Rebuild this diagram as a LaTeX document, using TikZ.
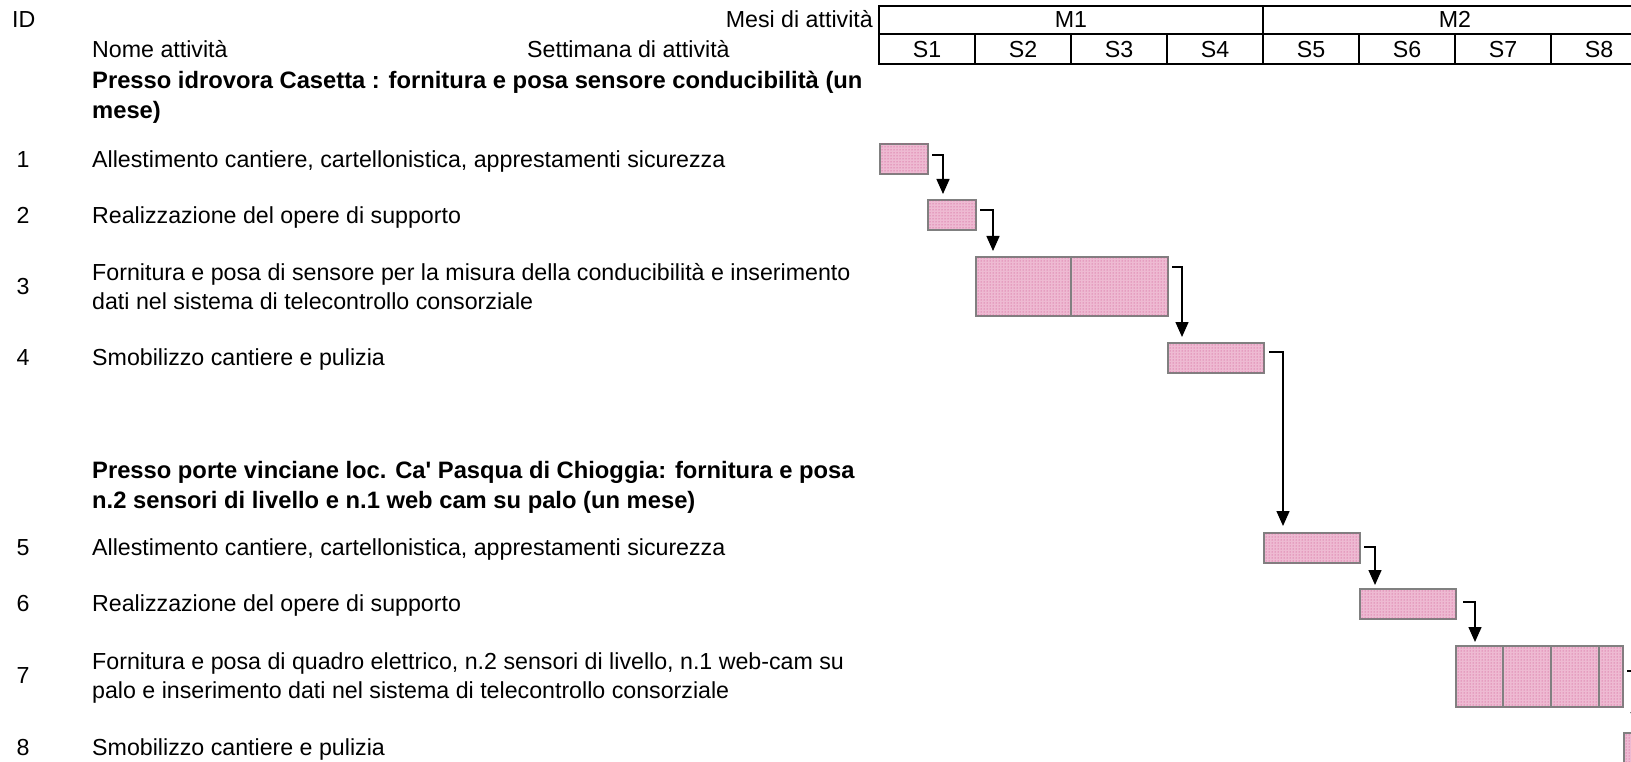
\documentclass[tikz,border=0pt]{standalone}
\usepackage{fontspec}
\setmainfont{Liberation Sans}
\usetikzlibrary{arrows.meta,patterns}
\definecolor{barfill}{RGB}{238,186,210}
\definecolor{bardot}{RGB}{200,64,130}
\definecolor{barline}{RGB}{128,128,128}
\newcommand{\straightq}{\XeTeXglyph\XeTeXcharglyph"0027\relax}
\begin{document}
\begin{tikzpicture}[x=1pt,y=-1pt,
  txt/.style={anchor=base west,inner sep=0pt,font=\fontsize{23.2}{29}\selectfont},
  txtb/.style={txt,font=\fontsize{23.75}{29}\selectfont\bfseries},
  num/.style={anchor=base,inner sep=0pt,font=\fontsize{23.2}{29}\selectfont},
  hdr/.style={anchor=base,inner sep=0pt,font=\fontsize{23.2}{29}\selectfont},
  grid/.style={line width=1.3pt,black},
  bar/.style={draw=barline,line width=2pt,fill=barfill,
    postaction={pattern=dots,pattern color=bardot},
    anchor=north west,inner sep=0pt,minimum height=30pt},
  divline/.style={draw=barline,line width=2pt},
  link/.style={draw=black,line width=1.4pt,-{Triangle[length=15pt,width=13pt]}}]
\useasboundingbox (0,0) rectangle (1631,762);
\clip (0,0) rectangle (1631,762);

% header table
\draw[grid] (879,6) rectangle (1647,64);
\draw[grid] (879,34) -- (1647,34);
\draw[grid] (1263,6) -- (1263,64);
\foreach \x in {975,1071,1167,1359,1455,1551}
  \draw[grid] (\x,34) -- (\x,64);
\node[hdr] (m1) at (1071,28) {M1};
\node[hdr] (m2) at (1455,28) {M2};
\foreach \i/\x in {1/927,2/1023,3/1119,4/1215,5/1311,6/1407,7/1503,8/1599}
  \node[hdr] (s\i) at (\x,58) {S\i};

% header texts
\node[txt] (id) at (12,28) {ID};
\node[txt,anchor=base east] (mesi) at (873,28) {Mesi di attività};
\node[txt] (nome) at (92,58) {Nome attività};
\node[txt] (sett) at (527,58) {Settimana di attività};

% group 1
\node[txtb] (h1a) at (92,89) {Presso idrovora Casetta : fornitura e posa sensore conducibilità (un};
\node[txtb] (h1b) at (92,119) {mese)};
\node[num] (n1) at (23,168) {1};
\node[txt] (t1) at (92,168) {Allestimento cantiere, cartellonistica, apprestamenti sicurezza};
\node[num] (n2) at (23,224) {2};
\node[txt] (t2) at (92,224) {Realizzazione del opere di supporto};
\node[num] (n3) at (23,294.5) {3};
\node[txt] (t3a) at (92,280) {Fornitura e posa di sensore per la misura della conducibilità e inserimento};
\node[txt] (t3b) at (92,309) {dati nel sistema di telecontrollo consorziale};
\node[num] (n4) at (23,365.5) {4};
\node[txt] (t4) at (92,365.5) {Smobilizzo cantiere e pulizia};

% group 2
\node[txtb] (h2a) at (92,478.5) {Presso porte vinciane loc. Ca\straightq{} Pasqua di Chioggia: fornitura e posa};
\node[txtb] (h2b) at (92,508) {n.2 sensori di livello e n.1 web cam su palo (un mese)};
\node[num] (n5) at (23,555.5) {5};
\node[txt] (t5) at (92,555.5) {Allestimento cantiere, cartellonistica, apprestamenti sicurezza};
\node[num] (n6) at (23,611.5) {6};
\node[txt] (t6) at (92,611.5) {Realizzazione del opere di supporto};
\node[num] (n7) at (23,683.5) {7};
\node[txt] (t7a) at (92,669) {Fornitura e posa di quadro elettrico, n.2 sensori di livello, n.1 web-cam su};
\node[txt] (t7b) at (92,698) {palo e inserimento dati nel sistema di telecontrollo consorziale};
\node[num] (n8) at (23,755.5) {8};
\node[txt] (t8) at (92,755.5) {Smobilizzo cantiere e pulizia};

% bars
\node[bar,minimum width=48pt] (b1) at (879,143) {};
\node[bar,minimum width=48pt] (b2) at (927,199) {};
\node[bar,minimum width=192pt,minimum height=59pt] (b3) at (975,256) {};
\node[bar,minimum width=96pt] (b4) at (1167,342) {};
\node[bar,minimum width=96pt] (b5) at (1263,532) {};
\node[bar,minimum width=96pt] (b6) at (1359,588) {};
\node[bar,minimum width=167pt,minimum height=61pt] (b7) at (1455,645) {};
\node[bar,minimum width=48pt] (b8) at (1623,732) {};
\draw[divline] ([xshift=96pt]b3.north west) -- ([xshift=96pt]b3.south west);
\foreach \d in {48,96,144}
  \draw[divline] ([xshift=\d pt]b7.north west) -- ([xshift=\d pt]b7.south west);

% links
\draw[link] ([xshift=3pt,yshift=-12pt]b1.north east) -| ([xshift=16pt,yshift=5pt]b2.north west);
\draw[link] ([xshift=3pt,yshift=-11pt]b2.north east) -| ([xshift=18pt,yshift=5pt]b3.north west);
\draw[link] ([xshift=3pt,yshift=-11pt]b3.north east) -| ([xshift=15pt,yshift=5pt]b4.north west);
\draw[link] ([xshift=4pt,yshift=-10pt]b4.north east) -| ([xshift=20pt,yshift=6pt]b5.north west);
\draw[link] ([xshift=3pt,yshift=-15pt]b5.north east) -| ([xshift=16pt,yshift=3pt]b6.north west);
\draw[link] ([xshift=6pt,yshift=-14pt]b6.north east) -| ([xshift=20pt,yshift=3pt]b7.north west);
\draw[link] ([xshift=3pt,yshift=-26pt]b7.north east) -| ([xshift=14pt,yshift=5pt]b8.north west);
\end{tikzpicture}
\end{document}
